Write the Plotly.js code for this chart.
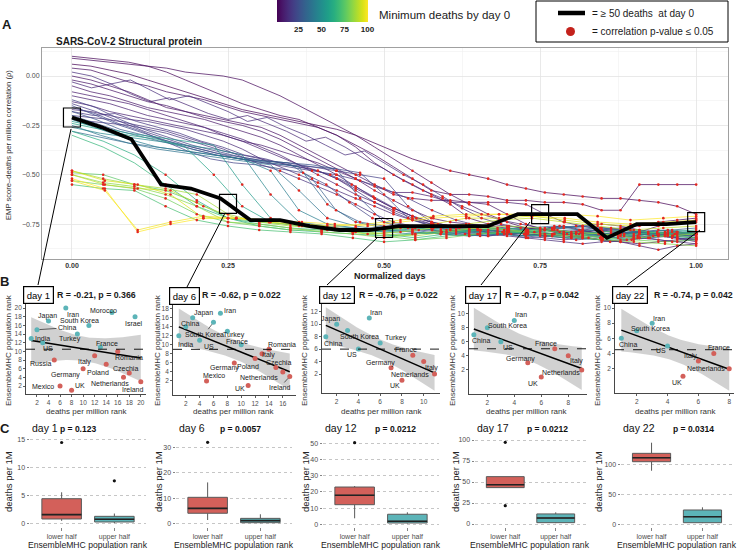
<!DOCTYPE html>
<html>
<head>
<meta charset="utf-8">
<script src="https://cdn.plot.ly/plotly-3.0.1.min.js"></script>
<style>html,body{margin:0;padding:0;background:#fff}#chart{width:739px;height:550px}</style>
</head>
<body>
<div id="chart"></div>
<script>
// ================= DATA =================
// ---- Panel A: EMP score vs deaths-per-million correlation over normalized days ----
const blackRho = [-0.21,-0.26,-0.32,-0.55,-0.57,-0.62,-0.73,-0.73,-0.76,-0.78,-0.78,-0.76,-0.76,-0.76,-0.76,-0.70,-0.70,-0.70,-0.82,-0.75,-0.75,-0.74];
const rho_md1  = [0.06,0.05,0.03,0.01,-0.02,-0.05,-0.08,-0.11,-0.14,-0.17,-0.19,-0.21,-0.23,-0.25,-0.27,-0.30,-0.34,-0.38,-0.42,-0.45,-0.48,-0.50,-0.52,-0.55,-0.57,-0.59,-0.60,-0.61,-0.62,-0.62,-0.63,-0.64,-0.66,-0.70];
const rho_md2  = [0.10,0.09,0.08,0.07,0.05,0.02,-0.02,-0.06,-0.10,-0.14,-0.17,-0.20,-0.22,-0.26,-0.30,-0.35,-0.40,-0.46,-0.52,-0.58,-0.60,-0.60,-0.61,-0.63,-0.63,-0.64,-0.64,-0.65,-0.68,-0.68,-0.55,-0.55,-0.55,-0.55];
const rho_md3  = [0.09,0.08,0.07,0.06,0.05,0.04,0.02,0.01,0.00,-0.02,-0.06,-0.10,-0.15,-0.20,-0.25,-0.30,-0.36,-0.42,-0.48,-0.54,-0.60,-0.65,-0.70,-0.74,-0.77,-0.78,-0.80,-0.79,-0.78,-0.77,-0.76,-0.74,-0.73,-0.72];
const rho_md4  = [0.04,0.03,0.00,-0.03,-0.05,-0.08,-0.10,-0.12,-0.15,-0.18,-0.20,-0.22,-0.24,-0.26,-0.30,-0.36,-0.44,-0.50,-0.55,-0.60,-0.65,-0.72,-0.75,-0.76,-0.77,-0.78,-0.79,-0.80,-0.81,-0.80,-0.79,-0.76,-0.74,-0.73];
const rho_md5  = [0.00,-0.02,-0.05,-0.08,-0.12,-0.16,-0.18,-0.20,-0.22,-0.24,-0.26,-0.30,-0.35,-0.40,-0.45,-0.50,-0.55,-0.60,-0.62,-0.63,-0.63,-0.64,-0.65,-0.70,-0.75,-0.78,-0.80,-0.82,-0.83,-0.84,-0.85,-0.84,-0.83,-0.82];
const rho_md6  = [-0.02,-0.04,-0.07,-0.10,-0.13,-0.15,-0.18,-0.21,-0.23,-0.25,-0.28,-0.32,-0.37,-0.42,-0.47,-0.52,-0.58,-0.63,-0.68,-0.72,-0.74,-0.75,-0.76,-0.77,-0.78,-0.77,-0.76,-0.78,-0.80,-0.81,-0.82,-0.81,-0.80,-0.79];
const rho_md7  = [-0.05,-0.08,-0.10,-0.13,-0.16,-0.18,-0.20,-0.22,-0.25,-0.28,-0.31,-0.35,-0.40,-0.45,-0.50,-0.56,-0.62,-0.67,-0.71,-0.74,-0.76,-0.77,-0.78,-0.78,-0.79,-0.80,-0.81,-0.82,-0.83,-0.84,-0.86,-0.88,-0.86,-0.85];
const rho_md8  = [-0.08,-0.10,-0.12,-0.14,-0.17,-0.20,-0.23,-0.26,-0.30,-0.33,-0.35,-0.38,-0.41,-0.44,-0.48,-0.52,-0.56,-0.59,-0.59,-0.61,-0.64,-0.64,-0.64,-0.64,-0.65,-0.70,-0.74,-0.76,-0.78,-0.79,-0.80,-0.80,-0.79,-0.80];
const rho_md9  = [-0.10,-0.12,-0.14,-0.17,-0.20,-0.22,-0.24,-0.26,-0.29,-0.32,-0.36,-0.40,-0.45,-0.48,-0.52,-0.57,-0.62,-0.67,-0.71,-0.74,-0.76,-0.77,-0.78,-0.79,-0.80,-0.81,-0.82,-0.81,-0.80,-0.79,-0.80,-0.81,-0.82,-0.83];
const rho_md10 = [-0.13,-0.15,-0.18,-0.20,-0.22,-0.24,-0.26,-0.28,-0.30,-0.33,-0.37,-0.41,-0.45,-0.50,-0.55,-0.60,-0.64,-0.68,-0.72,-0.75,-0.77,-0.78,-0.79,-0.80,-0.81,-0.80,-0.79,-0.78,-0.77,-0.78,-0.79,-0.80,-0.81,-0.80];
const rho_md11 = [-0.03,-0.06,-0.04,-0.09,-0.13,-0.11,-0.15,-0.19,-0.22,-0.20,-0.24,-0.28,-0.33,-0.31,-0.36,-0.42,-0.47,-0.53,-0.58,-0.62,-0.66,-0.70,-0.73,-0.75,-0.77,-0.79,-0.80,-0.79,-0.81,-0.82,-0.80,-0.79,-0.81];
const rho_md12 = [-0.17,-0.18,-0.20,-0.22,-0.23,-0.25,-0.27,-0.30,-0.33,-0.37,-0.42,-0.46,-0.50,-0.54,-0.58,-0.62,-0.66,-0.70,-0.73,-0.76,-0.78,-0.79,-0.80,-0.81,-0.82,-0.83,-0.84,-0.85,-0.84,-0.83,-0.82,-0.83,-0.84,-0.85];
const rho_md13 = [0.02,0.00,-0.04,-0.02,-0.07,-0.12,-0.10,-0.14,-0.18,-0.23,-0.21,-0.26,-0.30,-0.35,-0.40,-0.38,-0.44,-0.50,-0.55,-0.61,-0.67,-0.72,-0.75,-0.77,-0.78,-0.76,-0.78,-0.80,-0.82,-0.81,-0.79,-0.80,-0.82];
const rho_md14 = [-0.20,-0.21,-0.22,-0.24,-0.26,-0.28,-0.31,-0.34,-0.37,-0.41,-0.45,-0.48,-0.52,-0.56,-0.60,-0.65,-0.70,-0.74,-0.76,-0.77,-0.78,-0.80,-0.81,-0.80,-0.79,-0.78,-0.77,-0.76,-0.75,-0.76,-0.78,-0.80,-0.82,-0.84];
const rho_md15 = [-0.22,-0.23,-0.24,-0.25,-0.27,-0.29,-0.32,-0.35,-0.38,-0.40,-0.42,-0.44,-0.46,-0.48,-0.52,-0.58,-0.64,-0.69,-0.73,-0.75,-0.77,-0.78,-0.79,-0.80,-0.81,-0.82,-0.83,-0.82,-0.81,-0.80,-0.79,-0.78,-0.79,-0.80];
const rho_md16 = [-0.18,-0.20,-0.19,-0.23,-0.26,-0.29,-0.33,-0.36,-0.40,-0.42,-0.45,-0.47,-0.50,-0.55,-0.61,-0.67,-0.72,-0.75,-0.77,-0.78,-0.79,-0.80,-0.81,-0.80,-0.82,-0.84,-0.83,-0.81,-0.80,-0.81];
const rho_md17 = [-0.14,-0.18,-0.23,-0.28,-0.32,-0.36,-0.39,-0.42,-0.44,-0.46,-0.48,-0.50,-0.53,-0.57,-0.62,-0.68,-0.73,-0.76,-0.78,-0.79,-0.80,-0.79,-0.78,-0.80,-0.82,-0.84,-0.83];
const rho_md19 = [-0.12,-0.16,-0.22,-0.27,-0.31,-0.35,-0.38,-0.41,-0.43,-0.44,-0.46,-0.48,-0.50,-0.52,-0.66,-0.74,-0.77,-0.78,-0.79,-0.80,-0.81,-0.83,-0.82,-0.80,-0.79,-0.81,-0.82];
const rho_md20 = [-0.16,-0.19,-0.24,-0.28,-0.33,-0.38,-0.42,-0.44,-0.45,-0.47,-0.49,-0.55,-0.64,-0.72,-0.76,-0.78,-0.79,-0.80,-0.81,-0.80,-0.79,-0.78,-0.79,-0.81,-0.83,-0.82,-0.81,-0.80];
const rho_md22 = [-0.15,-0.20,-0.25,-0.29,-0.33,-0.37,-0.40,-0.42,-0.44,-0.45,-0.46,-0.47,-0.49,-0.60,-0.72,-0.76,-0.78,-0.79,-0.80,-0.82,-0.81,-0.80,-0.79,-0.78,-0.80,-0.82,-0.83];
const rho_md26 = [-0.18,-0.22,-0.27,-0.30,-0.33,-0.36,-0.39,-0.41,-0.43,-0.44,-0.45,-0.47,-0.62,-0.74,-0.76,-0.78,-0.80,-0.81,-0.80,-0.79,-0.78,-0.79,-0.80,-0.81,-0.80,-0.79,-0.80];
const rho_md30 = [-0.20,-0.24,-0.28,-0.31,-0.34,-0.37,-0.40,-0.42,-0.43,-0.44,-0.52,-0.68,-0.74,-0.76,-0.77,-0.78,-0.79,-0.80,-0.79,-0.78,-0.77,-0.76,-0.77,-0.78,-0.79,-0.78,-0.77];
const rho_md34 = [-0.28,-0.31,-0.34,-0.36,-0.38,-0.40,-0.42,-0.44,-0.46,-0.65,-0.74,-0.77,-0.78,-0.80,-0.81,-0.79,-0.78,-0.77,-0.76,-0.77,-0.78,-0.80,-0.81];
const rho_md38 = [-0.25,-0.30,-0.34,-0.37,-0.39,-0.41,-0.43,-0.45,-0.58,-0.72,-0.76,-0.78,-0.79,-0.80,-0.79,-0.78,-0.77,-0.76,-0.77,-0.78,-0.79,-0.80,-0.79];
const rho_md42 = [-0.22,-0.27,-0.32,-0.36,-0.38,-0.40,-0.42,-0.48,-0.68,-0.75,-0.77,-0.78,-0.79,-0.80,-0.81,-0.80,-0.78,-0.77,-0.78,-0.79,-0.80,-0.81,-0.80];
const rho_md46 = [-0.26,-0.29,-0.31,-0.33,-0.35,-0.37,-0.40,-0.60,-0.74,-0.76,-0.77,-0.79,-0.80,-0.79,-0.78,-0.77,-0.78,-0.80,-0.81,-0.80,-0.79,-0.78,-0.79];
const rho_md54 = [-0.23,-0.26,-0.29,-0.31,-0.33,-0.35,-0.55,-0.72,-0.75,-0.77,-0.78,-0.79,-0.78,-0.77,-0.78,-0.80,-0.81,-0.80,-0.79,-0.80,-0.82,-0.81,-0.80];
const rho_md58 = [-0.24,-0.27,-0.30,-0.32,-0.36,-0.50,-0.66,-0.74,-0.76,-0.78,-0.79,-0.78,-0.77,-0.78,-0.79,-0.80,-0.79,-0.78,-0.80,-0.81,-0.80,-0.79,-0.78];
const rho_md62 = [-0.28,-0.33,-0.40,-0.50,-0.63,-0.72,-0.76,-0.78,-0.79,-0.80,-0.81,-0.80,-0.79,-0.78,-0.79,-0.81,-0.82,-0.83,-0.82,-0.81,-0.82];
const rho_md66 = [-0.30,-0.36,-0.44,-0.55,-0.66,-0.72,-0.75,-0.77,-0.78,-0.79,-0.80,-0.82,-0.80,-0.78,-0.77,-0.78,-0.80,-0.82,-0.81,-0.80,-0.79];
const rho_md70 = [-0.55,-0.57,-0.58,-0.66,-0.73,-0.76,-0.78,-0.79,-0.80,-0.82,-0.84,-0.83,-0.81,-0.80,-0.79,-0.80,-0.82,-0.81,-0.80,-0.79,-0.80];
const rho_md74 = [-0.49,-0.50,-0.55,-0.58,-0.64,-0.72,-0.74,-0.75,-0.77,-0.79,-0.78,-0.77,-0.76,-0.76,-0.78,-0.79,-0.81,-0.79,-0.78,-0.80,-0.82];
const rho_md78 = [-0.53,-0.55,-0.57,-0.62,-0.70,-0.74,-0.76,-0.78,-0.78,-0.79,-0.81,-0.83,-0.82,-0.80,-0.79,-0.78,-0.80,-0.82,-0.83,-0.84,-0.83];
const rho_md82 = [-0.50,-0.54,-0.56,-0.60,-0.66,-0.74,-0.75,-0.77,-0.79,-0.80,-0.82,-0.80,-0.78,-0.77,-0.78,-0.80,-0.81,-0.83,-0.84,-0.85,-0.86];
const rho_md86 = [-0.48,-0.52,-0.55,-0.57,-0.60,-0.70,-0.74,-0.76,-0.77,-0.78,-0.80,-0.81,-0.79,-0.77,-0.76,-0.77,-0.79,-0.80,-0.82,-0.81,-0.80];
const rho_md90 = [-0.50,-0.55,-0.57,-0.58,-0.66,-0.72,-0.74,-0.76,-0.78,-0.80,-0.79,-0.77,-0.75,-0.73,-0.72,-0.74,-0.76,-0.78,-0.77,-0.76];
const rho_md94 = [-0.48,-0.53,-0.55,-0.60,-0.72,-0.72,-0.73,-0.75,-0.77,-0.78,-0.77,-0.75,-0.72,-0.72,-0.71,-0.73,-0.75,-0.76,-0.75,-0.74];
const rho_md98 = [-0.53,-0.58,-0.78,-0.74,-0.71,-0.72,-0.74,-0.75,-0.76,-0.75,-0.73,-0.71,-0.70,-0.70,-0.71,-0.72,-0.74,-0.75,-0.74,-0.73];
const rho_md100= [-0.52,-0.57,-0.79,-0.75,-0.72,-0.72,-0.73,-0.74,-0.75,-0.76,-0.74,-0.72,-0.71,-0.70,-0.70,-0.70,-0.71,-0.73,-0.72,-0.71];
const lineMinDeaths = [1,2,3,4,5,6,7,8,9,10,11,12,13,14,15,16,17,19,20,22,26,30,34,38,42,46,54,58,62,66,70,74,78,82,86,90,94,98,100];
const lineRhos = [rho_md1,rho_md2,rho_md3,rho_md4,rho_md5,rho_md6,rho_md7,rho_md8,rho_md9,rho_md10,rho_md11,rho_md12,rho_md13,rho_md14,rho_md15,rho_md16,rho_md17,rho_md19,rho_md20,rho_md22,rho_md26,rho_md30,rho_md34,rho_md38,rho_md42,rho_md46,rho_md54,rho_md58,rho_md62,rho_md66,rho_md70,rho_md74,rho_md78,rho_md82,rho_md86,rho_md90,rho_md94,rho_md98,rho_md100];
const sigRho = -0.48;            // correlations at/below this are significant (p <= 0.05)
const highlightX = [0, 0.25, 0.5, 0.75, 1];
const xTickVals = [0, 0.25, 0.5, 0.75, 1];
const xTickText = ['0.00','0.25','0.50','0.75','1.00'];
const yTickVals = [0, -0.25, -0.5, -0.75];
const yTickText = ['0.00','\u22120.25','\u22120.50','\u22120.75'];

// ---- Panel B: rank scatter plots ----
const bDays = ['day 1','day 6','day 12','day 17','day 22'];
const bR = ['-0.21','-0.62','-0.76','-0.7','-0.74'];
const bP = ['0.366','0.022','0.022','0.042','0.042'];
const bTcrit = [2.101, 2.131, 2.262, 2.365, 2.447];
const b1Country = ['Iran','Morocco','Israel','Japan','China','South Korea','Turkey','India','US','France','Romania','Italy','Russia','Poland','Germany','Czechia','Netherlands','Ireland','Mexico','UK'];
const b1Death   = [7,15,19,4,2,11,9,1,3,13,16,12,5,14,10,18,17,20,6,8];
const b1Pop     = [20,19,18,17,15,16,14,13,12,11,10,9,8,7,6,5,4,3,2,1];
const b1Half    = ['U','U','U','U','U','U','U','U','U','U','L','L','L','L','L','L','L','L','L','L'];
const b2Country = ['Iran','Japan','South Korea','China','Turkey','India','US','France','Romania','Italy','Poland','Germany','Czechia','Netherlands','Ireland','Mexico','UK'];
const b2Death   = [7,3,6,2,8,1,4,10,14,13,12,9,15,16,17,5,11];
const b2Pop     = [17,16,15,14,13,12,11,10,9,8,7,6,5,4,3,2,1];
const b2Half    = ['U','U','U','U','U','U','U','U','L','L','L','L','L','L','L','L','L'];
const b3Country = ['Iran','Japan','South Korea','China','Turkey','US','France','Italy','Germany','Netherlands','UK'];
const b3Death   = [5,2,3,1,6,4,9,10,7,11,8];
const b3Pop     = [11,10,9,8,7,6,5,4,3,2,1];
const b3Half    = ['U','U','U','U','U','U','L','L','L','L','L'];
const b4Country = ['Iran','South Korea','China','US','France','Italy','Germany','Netherlands','UK'];
const b4Death   = [4,2,1,3,7,8,5,9,6];
const b4Pop     = [9,8,7,6,5,4,3,2,1];
const b4Half    = ['U','U','U','U','L','L','L','L','L'];
const b5Country = ['Iran','South Korea','China','US','France','Italy','Netherlands','UK'];
const b5Death   = [3,2,1,4,7,6,8,5];
const b5Pop     = [8,7,6,5,4,3,2,1];
const b5Half    = ['U','U','U','U','L','L','L','L'];
const b1XTicks=[2,4,6,8,10,12,14,16,18,20], b1YTicks=[2,4,6,8,10,12,14,16,18,20];
const b2XTicks=[2,4,6,8,10,12,14,16],       b2YTicks=[2,4,6,8,10,12,14,16,18];
const b3XTicks=[2,4,6,8,10],                b3YTicks=[2,4,6,8,10,12];
const b4XTicks=[2,4,6,8],                   b4YTicks=[2,4,6,8,10];
const b5XTicks=[2,4,6,8],                   b5YTicks=[2,4,6,8,10];

// ---- Panel C: box plots of deaths per 1M ----
const cP       = ['0.123','0.0057','0.0212','0.0212','0.0314'];
const cGroups  = ['lower half','upper half'];
const lowQ1  = [0.83, 4.1, 12.1, 43.3, 105.4];
const lowMed = [1.6, 6.0, 17.9, 46.8, 112.1];
const lowQ3  = [4.43, 10.35, 23.0, 56.4, 119.5];
const lowMin = [0.5, 1.45, 3.7, 43.3, 90.2];
const lowMax = [5.57, 16.2, 23.6, 56.4, 137.4];
const upQ1   = [0.3, 0.4, 0.8, 1.6, 2.7];
const upMed  = [0.78, 1.2, 1.85, 7.1, 12.8];
const upQ3   = [1.3, 2.1, 6.2, 12.0, 24.1];
const upMin  = [0.1, 0.2, 0.5, 1.0, 2.0];
const upMax  = [1.8, 3.7, 7.4, 13.9, 28.6];
const lowOutliers = [[14.4],[31.9],[50.4],[97.3,21.8],[]];
const upOutliers  = [[7.6],[],[],[],[]];
const cYTicks = [[0,5,10,15],[0,10,20,30],[0,10,20,30,40,50],[0,25,50,75,100],[0,50,100]];

// ================= LAYOUT HELPERS (positions & styles) =================
const FONT = 'Liberation Sans, Arial, Helvetica, sans-serif';
const W = 739, H = 550;
const PX = p => p / W, PY = p => 1 - p / H;
const xd = (a, b) => [a / W, b / W];
const yd = (a, b) => [1 - b / H, 1 - a / H];
const TEAL = '#5CB4B8', RED = '#D3605A', DOTRED = '#E3261F';
const VIRIDIS = ['#440154','#48186a','#472d7b','#424086','#3b528b','#33638d','#2c728e','#26828e','#21918c','#1fa088','#28ae80','#3fbc73','#5ec962','#84d44b','#addc30','#d8e219','#fde725'];
function hex2rgb(h){return [parseInt(h.slice(1,3),16),parseInt(h.slice(3,5),16),parseInt(h.slice(5,7),16)];}
function viridis(t){
  t = Math.max(0, Math.min(1, t));
  const s = t * (VIRIDIS.length - 1), i = Math.min(Math.floor(s), VIRIDIS.length - 2), f = s - i;
  const a = hex2rgb(VIRIDIS[i]), b = hex2rgb(VIRIDIS[i + 1]);
  return 'rgb(' + a.map((v, k) => Math.round(v + (b[k] - v) * f)).join(',') + ')';
}
const traces = [], ann = [], shp = [];
function txt(x, y, text, o) {
  o = o || {};
  ann.push({xref:'paper', yref:'paper', x:PX(x), y:PY(y), text:text, showarrow:false,
    xanchor:o.xa || 'center', yanchor:'middle', textangle:o.angle || 0,
    font:{family:FONT, size:o.size || 9, color:o.color || '#1a1a1a', weight:o.bold ? 'bold' : 'normal'}});
}
function seg(x0, y0, x1, y1, w, c, dash) {
  shp.push({type:'line', xref:'paper', yref:'paper', x0:PX(x0), y0:PY(y0), x1:PX(x1), y1:PY(y1),
    line:{color:c || '#000', width:w || 1, dash:dash || 'solid'}});
}

const layout = {width:W, height:H, margin:{l:0, r:0, t:0, b:0}, paper_bgcolor:'#fff', plot_bgcolor:'rgba(0,0,0,0)',
  showlegend:false, hovermode:false, font:{family:FONT, color:'#1a1a1a'}};

// ================= PANEL A =================
layout.xaxis = {domain:xd(42,728), anchor:'y', range:[-0.048,1.051], tickmode:'array', tickvals:xTickVals, ticktext:xTickText,
  tickfont:{size:7, color:'#333', weight:'bold'}, ticks:'', showgrid:true, gridcolor:'#e3e3e3', gridwidth:0.8,
  minor:{tickmode:'array', tickvals:[0.125,0.375,0.625,0.875], showgrid:true, gridcolor:'#f0f0f0', gridwidth:0.6, ticks:''},
  showline:true, mirror:true, linecolor:'#a0a0a0', linewidth:1, zeroline:false};
layout.yaxis = {domain:yd(48,259), anchor:'x', range:[-0.927,0.142], tickmode:'array', tickvals:yTickVals, ticktext:yTickText,
  tickfont:{size:7, color:'#4d4d4d'}, ticks:'', showgrid:true, gridcolor:'#e3e3e3', gridwidth:0.8,
  minor:{tickmode:'array', tickvals:[0.125,-0.125,-0.375,-0.625,-0.875], showgrid:true, gridcolor:'#f0f0f0', gridwidth:0.6, ticks:''},
  showline:true, mirror:true, linecolor:'#a0a0a0', linewidth:1, zeroline:false};

lineRhos.forEach((rho, k) => {
  const n = rho.length;
  traces.push({type:'scatter', mode:'lines', xaxis:'x', yaxis:'y', x:rho.map((_, i) => i / (n - 1)), y:rho,
    line:{color:viridis((lineMinDeaths[k] - 1) / 99), width:0.8}, opacity:0.9, hoverinfo:'skip'});
});
const sigX = [], sigY = [];
lineRhos.forEach(rho => { const n = rho.length; rho.forEach((v, i) => { if (v <= sigRho) { sigX.push(i / (n - 1)); sigY.push(v); } }); });
traces.push({type:'scatter', mode:'markers', xaxis:'x', yaxis:'y', x:sigX, y:sigY,
  marker:{color:DOTRED, size:2.6, line:{width:0}}, hoverinfo:'skip'});
const nb = blackRho.length;
traces.push({type:'scatter', mode:'lines', xaxis:'x', yaxis:'y', x:blackRho.map((_, i) => i / (nb - 1)), y:blackRho,
  line:{color:'#000', width:3.8}, hoverinfo:'skip'});
// colour bar (dummy trace, outside the visible range)
traces.push({type:'scatter', mode:'markers', xaxis:'x', yaxis:'y', x:[-5,-5], y:[0,0],
  marker:{color:[1,100], cmin:1, cmax:100, colorscale:'Viridis', size:1, showscale:true,
    colorbar:{orientation:'h', x:PX(322), xanchor:'center', y:1, yanchor:'top', len:91, lenmode:'pixels',
      thickness:22, thicknessmode:'pixels', xpad:0, ypad:0, outlinewidth:0, tickmode:'array', tickvals:[25,50,75,100],
      ticks:'', tickfont:{size:8, color:'#222', weight:'bold', family:FONT}, ticklabelposition:'outside bottom'}},
  hoverinfo:'skip'});
shp.push({type:'line', xref:'paper', yref:'paper', x0:PX(321.5), x1:PX(321.5), y0:PY(0), y1:PY(22), line:{color:'#000', width:3}});
txt(377, 15, 'Minimum deaths by day 0', {xa:'left', size:11.5});
// legend box
shp.push({type:'rect', xref:'paper', yref:'paper', x0:PX(536), x1:PX(728), y0:PY(1), y1:PY(42), line:{color:'#000', width:1}, fillcolor:'#fff'});
seg(558, 13, 585, 13, 4.5, '#000');
shp.push({type:'circle', xref:'paper', yref:'paper', x0:PX(566), x1:PX(575), y0:PY(36), y1:PY(27), fillcolor:'#C4221C', line:{width:0}});
txt(590, 13, '= \u2265 50 deaths\u00a0 at day 0', {xa:'left', size:10});
txt(590, 31.5, '= correlation p-value \u2264 0.05', {xa:'left', size:10});
// titles
txt(7, 24, 'A', {bold:true, size:13});
txt(4, 281, 'B', {bold:true, size:13});
txt(5, 428, 'C', {bold:true, size:13});
txt(54, 41.5, 'SARS-CoV-2 Structural protein', {xa:'left', bold:true, size:10});
txt(390, 276, 'Normalized days', {bold:true, size:9});
txt(8, 145, 'EMP score\u2013deaths per million correlation (\u03c1)', {angle:-90, size:7.6, color:'#333'});
// highlight boxes on the black line
function blackAt(xv){ const s = xv * (nb - 1), i = Math.min(Math.floor(s), nb - 2), f = s - i; return blackRho[i] + (blackRho[i + 1] - blackRho[i]) * f; }
highlightX.forEach(xv => {
  shp.push({type:'rect', xref:'x', yref:'y', xsizemode:'pixel', ysizemode:'pixel', xanchor:xv, yanchor:blackAt(xv),
    x0:-8.5, x1:8.5, y0:-9.5, y1:9.5, line:{color:'#000', width:1.2}});
});
// connector lines A -> B
seg(71, 129, 38, 285, 1);
seg(225, 213, 187, 287, 1);
seg(378, 237, 327, 285, 1);
seg(530, 222, 481, 285, 1);
seg(700, 230, 627, 285, 1);

// ================= PANEL B =================
const bPanels = [
  {c:b1Country, d:b1Death, p:b1Pop, h:b1Half, xt:b1XTicks, yt:b1YTicks, xr:[0.1,20.9], yr:[0.15,20.95], px:[26,146], py:[304,394], box:[38,294.5], rx:55, ytx:8, xtx:86},
  {c:b2Country, d:b2Death, p:b2Pop, h:b2Half, xt:b2XTicks, yt:b2YTicks, xr:[0.16,17.9], yr:[-1.1,19.25], px:[173,296], py:[303,395], box:[184.5,295.5], rx:200, ytx:157, xtx:234},
  {c:b3Country, d:b3Death, p:b3Pop, h:b3Half, xt:b3XTicks, yt:b3YTicks, xr:[0.65,11.5], yr:[-1.04,13.4], px:[322,440], py:[303,393], box:[337,294.5], rx:357, ytx:304, xtx:381},
  {c:b4Country, d:b4Death, p:b4Pop, h:b4Half, xt:b4XTicks, yt:b4YTicks, xr:[0.64,9.39], yr:[-1.42,11.5], px:[469,587], py:[303,394], box:[483,294.5], rx:503, ytx:452, xtx:526},
  {c:b5Country, d:b5Death, p:b5Pop, h:b5Half, xt:b5XTicks, yt:b5YTicks, xr:[0.59,8.31], yr:[-1.21,10.66], px:[615,734], py:[303,393], box:[630,294.5], rx:652, ytx:597, xtx:675}
];
// label offsets (px, text centre relative to point; 3rd value = draw segment)
const bLabelOffsets = [
  [[7,6],[-8,-2],[-1,7],[-1,-5],[30,-2,1],[-9,-5],[-7,5],[11,0],[5,6],[7,-4],[11,6],[-10,6],[-13,3],[-8,8],[-18,6],[-4,-5],[-14,6],[-8,8],[-17,0],[8,-5]],
  [[10,-3],[11,-5],[-9,12,1],[4,-3],[7,4],[7,9],[9,6],[-4,-3],[13,-5],[6,1],[-7,8],[-10,5],[3,-5],[-24,6],[-10,11,1],[7,-5],[-8,3]],
  [[7,-5],[-6,-5],[12,6],[7,7],[16,-5],[-6,5],[-7,-6],[8,6],[-11,-5],[-25,0],[-7,5]],
  [[7,-6],[20,-2],[7,6],[7,6],[-9,-5],[8,5],[-7,-4],[-21,3],[-8,7]],
  [[7,-5],[14,-2],[7,6],[-7,5],[5,-6],[-8,-5],[-23,0],[-6,6]]
];
const BAX = {showline:true, linecolor:'#333', linewidth:0.9, ticks:'outside', ticklen:2, tickwidth:0.8, tickcolor:'#333',
  tickfont:{size:6.5, color:'#4d4d4d'}, showgrid:false, zeroline:false, tickmode:'array'};
bPanels.forEach((P, k) => {
  const ai = k + 2, xa = 'x' + ai, ya = 'y' + ai;
  layout['xaxis' + ai] = Object.assign({}, BAX, {domain:xd(P.px[0], P.px[1]), range:P.xr, anchor:ya, tickvals:P.xt});
  layout['yaxis' + ai] = Object.assign({}, BAX, {domain:yd(P.py[0], P.py[1]), range:P.yr, anchor:xa, tickvals:P.yt});
  // linear fit + 95% CI ribbon
  const n = P.d.length, mx = P.d.reduce((a, b) => a + b, 0) / n, my = P.p.reduce((a, b) => a + b, 0) / n;
  let sxx = 0, sxy = 0; P.d.forEach((x, i) => { sxx += (x - mx) ** 2; sxy += (x - mx) * (P.p[i] - my); });
  const b = sxy / sxx, a = my - b * mx;
  let ss = 0; P.d.forEach((x, i) => { ss += (P.p[i] - (a + b * x)) ** 2; });
  const s = Math.sqrt(ss / (n - 2));
  const xmin = Math.min(...P.d), xmax = Math.max(...P.d);
  const gx = [], up = [], lo = [];
  for (let j = 0; j <= 60; j++) { const x = xmin + (xmax - xmin) * j / 60, f = a + b * x, se = s * Math.sqrt(1 / n + (x - mx) ** 2 / sxx);
    gx.push(x); up.push(f + bTcrit[k] * se); lo.push(f - bTcrit[k] * se); }
  traces.push({type:'scatter', mode:'lines', xaxis:xa, yaxis:ya, x:gx.concat(gx.slice().reverse()), y:up.concat(lo.slice().reverse()),
    fill:'toself', fillcolor:'rgba(153,153,153,0.45)', line:{width:0}, hoverinfo:'skip'});
  const sorted = P.p.slice().sort((u, v) => u - v);
  const med = n % 2 ? sorted[(n - 1) / 2] : (sorted[n / 2 - 1] + sorted[n / 2]) / 2;
  shp.push({type:'line', xref:xa + ' domain', yref:ya, x0:0, x1:1, y0:med, y1:med, line:{color:'#000', width:0.9, dash:'dash'}});
  traces.push({type:'scatter', mode:'lines', xaxis:xa, yaxis:ya, x:[xmin, xmax], y:[a + b * xmin, a + b * xmax],
    line:{color:'#000', width:1.5}, hoverinfo:'skip'});
  ['U', 'L'].forEach(g => {
    const ix = P.h.map((v, i) => v === g ? i : -1).filter(i => i >= 0);
    traces.push({type:'scatter', mode:'markers', xaxis:xa, yaxis:ya, x:ix.map(i => P.d[i]), y:ix.map(i => P.p[i]),
      marker:{color:g === 'U' ? TEAL : RED, size:5, line:{width:0}}, hoverinfo:'skip'});
  });
  P.c.forEach((name, i) => {
    const o = bLabelOffsets[k][i];
    if (o[2]) {
      ann.push({xref:xa, yref:ya, x:P.d[i], y:P.p[i], text:name, showarrow:true, arrowhead:0, arrowwidth:0.7, arrowcolor:'#222',
        ax:o[0], ay:o[1], standoff:2.5, font:{family:FONT, size:7, color:'#1a1a1a'}});
    } else {
      ann.push({xref:xa, yref:ya, x:P.d[i], y:P.p[i], text:name, showarrow:false, xshift:o[0], yshift:-o[1],
        xanchor:'center', yanchor:'middle', font:{family:FONT, size:7, color:'#1a1a1a'}});
    }
  });
  ann.push({xref:'paper', yref:'paper', x:PX(P.box[0]), y:PY(P.box[1]), text:bDays[k], showarrow:false, xanchor:'center', yanchor:'middle',
    bordercolor:'#000', borderwidth:1.2, borderpad:2.5, bgcolor:'#fff', font:{family:FONT, size:9.5, color:'#000'}});
  txt(P.rx, 295, 'R = ' + bR[k] + ', p = ' + bP[k], {xa:'left', bold:true, size:8.8});
  txt(P.ytx, 350, 'EnsembleMHC population rank', {angle:-90, size:8, color:'#333'});
  txt(P.xtx, 411, 'deaths per million rank', {size:8, color:'#333'});
});

// ================= PANEL C =================
const cPanels = [
  {px:[30,146], yr:[-0.59,15.55], title:[30,58], ytx:8, xtx:88},
  {px:[176,292], yr:[-1.29,34.4], title:[177,218], ytx:158, xtx:234},
  {px:[323,439], yr:[-1.67,54.5], title:[323,373], ytx:305, xtx:381},
  {px:[475,586], yr:[-3.57,104.8], title:[475,525], ytx:455, xtx:530},
  {px:[621,733], yr:[-4.55,148.7], title:[621,671], ytx:598, xtx:677}
];
cPanels.forEach((P, k) => {
  const ai = k + 7, xa = 'x' + ai, ya = 'y' + ai;
  layout['xaxis' + ai] = {domain:xd(P.px[0], P.px[1]), anchor:ya, type:'category', categoryorder:'array', categoryarray:cGroups,
    range:[-0.6, 1.6], ticks:'outside', ticklen:2.5, tickwidth:0.8, tickcolor:'#666', tickfont:{size:7, color:'#4d4d4d'},
    showline:false, showgrid:false, zeroline:false};
  layout['yaxis' + ai] = {domain:yd(436, 527), anchor:xa, range:P.yr, tickmode:'array', tickvals:cYTicks[k],
    ticks:'outside', ticklen:2.5, tickwidth:0.8, tickcolor:'#666', tickfont:{size:7, color:'#4d4d4d'},
    showline:false, showgrid:true, gridcolor:'#b8b8b8', gridwidth:0.8, griddash:'dot', zeroline:false};
  const boxes = [
    {g:cGroups[0], q1:lowQ1[k], m:lowMed[k], q3:lowQ3[k], lo:lowMin[k], hi:lowMax[k], c:RED, out:lowOutliers[k]},
    {g:cGroups[1], q1:upQ1[k], m:upMed[k], q3:upQ3[k], lo:upMin[k], hi:upMax[k], c:TEAL, out:upOutliers[k]}
  ];
  boxes.forEach((B, j) => {
    traces.push({type:'box', xaxis:xa, yaxis:ya, x:[B.g], q1:[B.q1], median:[B.m], q3:[B.q3], lowerfence:[B.lo], upperfence:[B.hi],
      fillcolor:B.c, line:{color:'#5a5a5a', width:1}, width:0.75, whiskerwidth:0, boxpoints:false, hoverinfo:'skip'});
    shp.push({type:'line', xref:xa, yref:ya, x0:j - 0.375, x1:j + 0.375, y0:B.m, y1:B.m, line:{color:'#222', width:1.6}});
    if (B.out.length) traces.push({type:'scatter', mode:'markers', xaxis:xa, yaxis:ya, x:B.out.map(() => B.g), y:B.out,
      marker:{color:'#111', size:3.2}, hoverinfo:'skip'});
  });
  txt(P.title[0], 428, bDays[k], {xa:'left', size:10.5, color:'#111'});
  txt(P.title[1], 429, 'p = ' + cP[k], {xa:'left', bold:true, size:8.5, color:'#111'});
  txt(P.ytx, 482, 'deaths per 1M', {angle:-90, size:9.5, color:'#222'});
  txt(P.xtx, 545, 'EnsembleMHC population rank', {size:8.6, color:'#222'});
});

layout.annotations = ann;
layout.shapes = shp;
Plotly.newPlot('chart', traces, layout, {staticPlot:true, displayModeBar:false});
</script>
</body>
</html>
